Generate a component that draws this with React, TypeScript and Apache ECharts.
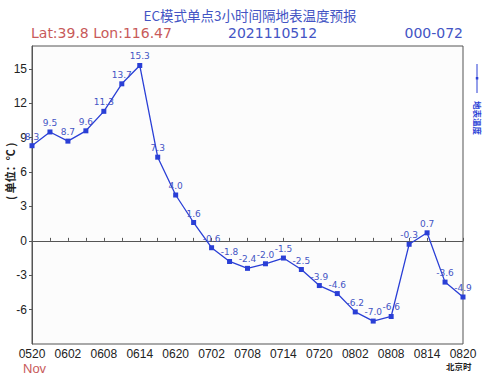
import React, { useEffect, useRef } from "react";
import * as echarts from "echarts";

const categories = [
  "0520", "0523", "0602", "0605", "0608", "0611", "0614", "0617", "0620", "0623",
  "0702", "0705", "0708", "0711", "0714", "0717", "0720", "0723",
  "0802", "0805", "0808", "0811", "0814", "0817", "0820",
];
const temps = [
  8.3, 9.5, 8.7, 9.6, 11.3, 13.7, 15.3, 7.3, 4.0, 1.6,
  -0.6, -1.8, -2.4, -2.0, -1.5, -2.5, -3.9, -4.6,
  -6.2, -7.0, -6.6, -0.3, 0.7, -3.6, -4.9,
];
const titleText = "EC模式单点3小时间隔地表温度预报";
const latLonText = "Lat:39.8 Lon:116.47";
const initTimeText = "2021110512";
const rangeText = "000-072";
const seriesName = "地表温度";

const BLUE = "#2a3fd6";
const TEXT_BLUE = "#4354c4";
const RED = "#c85a5a";

export default function App() {
  const ref = useRef<HTMLDivElement>(null);
  useEffect(() => {
    if (!ref.current) return;
    const chart = echarts.init(ref.current, undefined, { renderer: "svg" });
    chart.setOption({
      animation: false,
      backgroundColor: "#fff",
      grid: { left: 32, right: 37, top: 46, bottom: 31, show: true, borderColor: "#555", borderWidth: 1, backgroundColor: "#fcfcfc" },
      xAxis: {
        type: "category",
        data: categories,
        boundaryGap: false,
        axisLine: { lineStyle: { color: "#555" } },
        axisTick: { inside: true, length: 3, interval: 0, lineStyle: { color: "#555" } },
        axisLabel: { interval: 1, color: "#222", fontSize: 12, lineHeight: 11, fontFamily: "Liberation Sans", margin: 4 },
        splitLine: { show: false },
      },
      yAxis: {
        type: "value",
        min: -9,
        max: 17,
        interval: 3,
        axisLine: { show: true, lineStyle: { color: "#555" } },
        axisTick: { show: true, length: 3, lineStyle: { color: "#555" } },
        axisLabel: { showMinLabel: false, showMaxLabel: false, color: "#222", fontSize: 12, fontFamily: "Liberation Sans", margin: 5 },
        splitLine: { show: false },
      },
      series: [
        {
          name: seriesName,
          type: "line",
          data: temps,
          symbol: "rect",
          symbolSize: 5,
          lineStyle: { color: BLUE, width: 1.3 },
          itemStyle: { color: BLUE },
          label: {
            show: true,
            position: "top",
            distance: 2,
            color: TEXT_BLUE,
            fontSize: 9,
            fontFamily: "DejaVu Sans",
            formatter: (p: any) => Number(p.value).toFixed(1),
          },
        },
      ],
      graphic: [
        { type: "text", left: "center", top: 8, style: { text: titleText, fill: TEXT_BLUE, font: "13.5px 'Noto Sans CJK SC'" } },
        { type: "text", left: 31, top: 26, style: { text: latLonText, fill: RED, font: "14px 'DejaVu Sans'" } },
        { type: "text", left: 228, top: 26, style: { text: initTimeText, fill: TEXT_BLUE, font: "14px 'DejaVu Sans'" } },
        { type: "text", right: 37, top: 26, style: { text: rangeText, fill: TEXT_BLUE, font: "14px 'DejaVu Sans'" } },
        { type: "text", left: 23, top: 362, style: { text: "Nov", fill: RED, font: "13px 'Liberation Sans'", lineHeight: 10 } },
        { type: "text", left: 446, top: 362, style: { text: "北京时", fill: "#222", font: "bold 8.5px 'Noto Sans CJK SC'", lineHeight: 8 } },
        {
          type: "text",
          x: 4,
          y: 200,
          rotation: Math.PI / 2,
          style: { text: "( 单位：℃ )", fill: "#222", font: "bold 11px 'Noto Sans CJK SC'" },
        },
        { type: "line", shape: { x1: 477, y1: 64, x2: 477, y2: 93 }, style: { stroke: BLUE, lineWidth: 1 } },
        { type: "rect", shape: { x: 475.8, y: 77, width: 2.5, height: 2.5 }, style: { fill: BLUE } },
        {
          type: "text",
          x: 482,
          y: 101,
          rotation: -Math.PI / 2,
          style: { text: seriesName, fill: BLUE, font: "bold 8.5px 'Noto Sans CJK SC'" },
        },
      ],
    });
    return () => chart.dispose();
  }, []);
  return <div ref={ref} style={{ width: 500, height: 375, position: "absolute", left: 0, top: 0 }} />;
}
